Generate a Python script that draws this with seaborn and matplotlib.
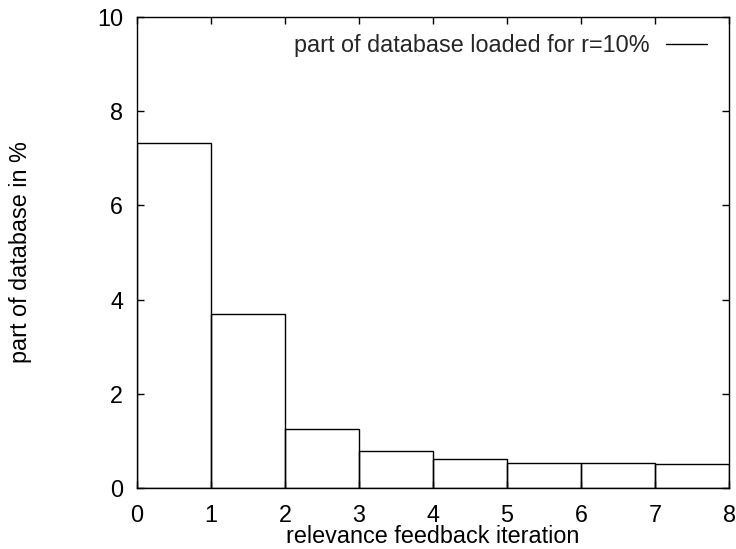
import numpy as np
import pandas as pd
import matplotlib
matplotlib.use("Agg")
import matplotlib.pyplot as plt
import seaborn as sns
from matplotlib.lines import Line2D

# Share of the database loaded per relevance feedback iteration (r = 10%)
iterations = [0, 1, 2, 3, 4, 5, 6, 7]
loaded_percent = [7.33, 3.69, 1.25, 0.78, 0.62, 0.54, 0.54, 0.50]
bin_edges = [0, 1, 2, 3, 4, 5, 6, 7, 8]
x_ticks = [0, 1, 2, 3, 4, 5, 6, 7, 8]
y_ticks = [0, 2, 4, 6, 8, 10]
series_label = "part of database loaded for r=10%"

sns.set_theme(style="white")
plt.rcParams["font.family"] = ["Liberation Sans", "DejaVu Sans"]
FS = 16.8

df = pd.DataFrame({"iteration": iterations, "percent": loaded_percent})

fig = plt.figure(figsize=(7.36, 5.49), dpi=100)
ax = fig.add_axes([137 / 736, 61 / 549, 592 / 736, 471 / 549])

sns.histplot(data=df, x="iteration", weights="percent", bins=bin_edges,
             element="bars", fill=False, color="black", linewidth=1.0,
             ax=ax)

ax.set_xlim(0, 8)
ax.set_ylim(0, 10)
ax.set_xticks(x_ticks)
ax.set_yticks(y_ticks)
ax.tick_params(axis="both", which="major", direction="in", length=5,
               width=1.0, color="black", labelsize=FS, labelcolor="black",
               top=True, right=True, bottom=True, left=True)
ax.tick_params(axis="x", pad=11.5)
ax.tick_params(axis="y", pad=10)

for side in ax.spines.values():
    side.set_color("black")
    side.set_linewidth(1.0)

ax.set_xlabel("relevance feedback iteration", fontsize=FS, color="black")
ax.set_ylabel("part of database in %", fontsize=FS, color="black")
ax.xaxis.set_label_coords(0.5, -0.0786)
ax.yaxis.set_label_coords(-0.1774, 0.5)

handle = Line2D([], [], color="black", linewidth=1.0)
ax.legend([handle], [series_label], loc="upper right",
          bbox_to_anchor=(0.9628, 0.9639), borderaxespad=0, borderpad=0,
          frameon=False, markerfirst=False, handlelength=1.76,
          handletextpad=0.69, fontsize=FS)

fig.savefig("out.png", dpi=100, facecolor="white")
